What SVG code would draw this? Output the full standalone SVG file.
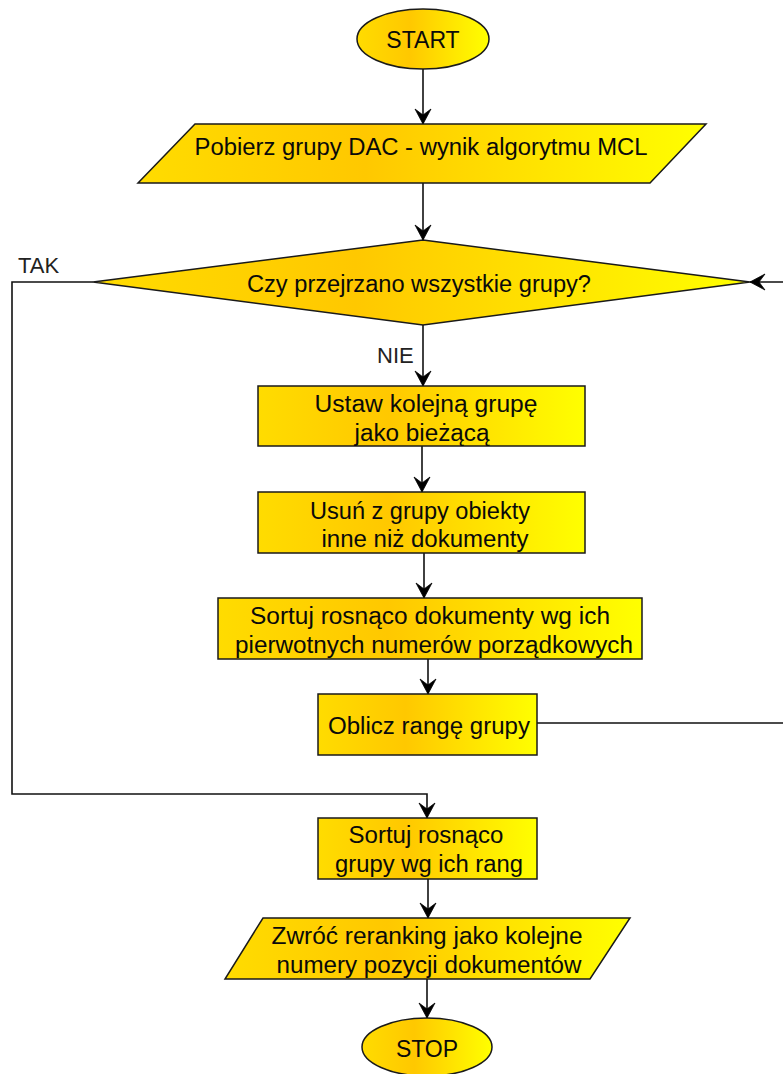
<svg xmlns="http://www.w3.org/2000/svg" width="783" height="1074" viewBox="0 0 783 1074">
<defs>
<linearGradient id="yg" x1="0" y1="0" x2="1" y2="0">
<stop offset="0" stop-color="#ffdc00"/>
<stop offset="0.4" stop-color="#ffc800"/>
<stop offset="1" stop-color="#ffff00"/>
</linearGradient>
<marker id="ah" markerUnits="userSpaceOnUse" markerWidth="20" markerHeight="20" refX="17" refY="10" orient="auto" overflow="visible">
<path d="M17,10 L2,2 L8,10 L2,18 Z" fill="#000" stroke="#000" stroke-width="0.8" stroke-linejoin="miter"/>
</marker>
</defs>
<style>
.s{fill:url(#yg);stroke:#1a1a1a;stroke-width:1.5}
.t{font-family:"Liberation Sans",Arial,sans-serif;font-size:23px;fill:#0a0a0a;text-anchor:middle}
.l{font-family:"Liberation Sans",Arial,sans-serif;font-size:22px;fill:#222}
.c{fill:none;stroke:#111;stroke-width:1.6}
</style>
<g id="connectors">
<path class="c" d="M423,69 L423,124" marker-end="url(#ah)"/>
<path class="c" d="M423,183 L423,240" marker-end="url(#ah)"/>
<path class="c" d="M423,325 L423,386" marker-end="url(#ah)"/>
<path class="c" d="M422,446 L422,492" marker-end="url(#ah)"/>
<path class="c" d="M424,553 L424,598" marker-end="url(#ah)"/>
<path class="c" d="M428,659 L428,694" marker-end="url(#ah)"/>
<path class="c" d="M537,723 L785,723 L785,282 L750,282" marker-end="url(#ah)"/>
<path class="c" d="M93,282 L12,282 L12,794 L427,794 L427,818" marker-end="url(#ah)"/>
<path class="c" d="M428,879 L428,918" marker-end="url(#ah)"/>
<path class="c" d="M427,979 L427,1018" marker-end="url(#ah)"/>
<text class="l" x="18" y="273">TAK</text>
<text class="l" x="377" y="363">NIE</text>
</g>
<g id="start">
<ellipse class="s" cx="423" cy="39" rx="66" ry="30"/>
<text class="t" x="423" y="48">START</text>
</g>
<g id="input">
<polygon class="s" points="195,124 706,124 650,183 138,183"/>
<text class="t" x="421" y="155" textLength="453" lengthAdjust="spacingAndGlyphs">Pobierz grupy DAC - wynik algorytmu MCL</text>
</g>
<g id="decision">
<polygon class="s" points="423,240 750,282 423,325 93,282"/>
<text class="t" x="419" y="292" textLength="344" lengthAdjust="spacingAndGlyphs">Czy przejrzano wszystkie grupy?</text>
</g>
<g id="set-current">
<rect class="s" x="258" y="386" width="327" height="60"/>
<text class="t" x="426" y="412" textLength="223" lengthAdjust="spacingAndGlyphs">Ustaw kolejną grupę</text>
<text class="t" x="422" y="441" textLength="135" lengthAdjust="spacingAndGlyphs">jako bieżącą</text>
</g>
<g id="remove">
<rect class="s" x="258" y="492" width="327" height="61"/>
<text class="t" x="420" y="519" textLength="220" lengthAdjust="spacingAndGlyphs">Usuń z grupy obiekty</text>
<text class="t" x="425" y="547" textLength="207" lengthAdjust="spacingAndGlyphs">inne niż dokumenty</text>
</g>
<g id="sort-docs">
<rect class="s" x="218" y="598" width="424" height="61"/>
<text class="t" x="430" y="624" textLength="360" lengthAdjust="spacingAndGlyphs">Sortuj rosnąco dokumenty wg ich</text>
<text class="t" x="434" y="653" textLength="398" lengthAdjust="spacingAndGlyphs">pierwotnych numerów porządkowych</text>
</g>
<g id="rank">
<rect class="s" x="318" y="694" width="219" height="61"/>
<text class="t" x="429" y="734" textLength="202" lengthAdjust="spacingAndGlyphs">Oblicz rangę grupy</text>
</g>
<g id="sort-groups">
<rect class="s" x="318" y="818" width="219" height="61"/>
<text class="t" x="426" y="843" textLength="155" lengthAdjust="spacingAndGlyphs">Sortuj rosnąco</text>
<text class="t" x="429" y="872" textLength="188" lengthAdjust="spacingAndGlyphs">grupy wg ich rang</text>
</g>
<g id="output">
<polygon class="s" points="263,918 630,918 590,979 225,979"/>
<text class="t" x="427" y="944" textLength="311" lengthAdjust="spacingAndGlyphs">Zwróć reranking jako kolejne</text>
<text class="t" x="429" y="973" textLength="305" lengthAdjust="spacingAndGlyphs">numery pozycji dokumentów</text>
</g>
<g id="stop">
<ellipse class="s" cx="427" cy="1047" rx="65" ry="29"/>
<text class="t" x="427" y="1057">STOP</text>
</g>
</svg>
